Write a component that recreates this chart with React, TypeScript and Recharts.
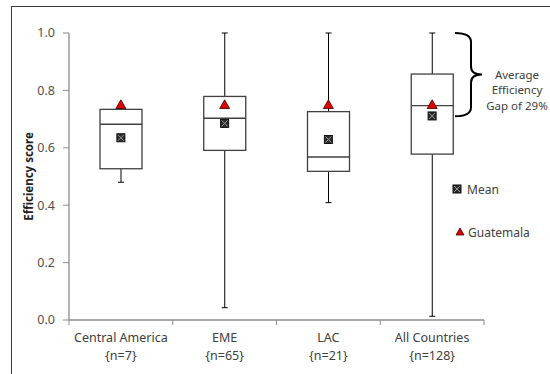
import { ComposedChart, Bar, Scatter, XAxis, YAxis, ReferenceArea } from "recharts";

const categories = ["Central America", "EME", "LAC", "All Countries"];
const sampleSizes = [7, 65, 21, 128];
const minValues = [0.48, 0.043, 0.409, 0.013];
const q1Values = [0.527, 0.591, 0.518, 0.578];
const medianValues = [0.682, 0.703, 0.568, 0.747];
const q3Values = [0.734, 0.779, 0.726, 0.857];
const maxValues = [0.745, 1.0, 1.0, 1.0];
const meanValues = [0.635, 0.685, 0.629, 0.711];
const guatemalaValues = [0.75, 0.75, 0.75, 0.75];
const yTicks = [0, 0.2, 0.4, 0.6, 0.8, 1.0];
const gapLow = 0.71;
const gapHigh = 1.0;
const gapLines = ["Average", "Efficiency", "Gap of 29%"];

const data = categories.map((name, i) => ({
  name,
  n: sampleSizes[i],
  min: minValues[i],
  q1: q1Values[i],
  median: medianValues[i],
  q3: q3Values[i],
  max: maxValues[i],
  mean: meanValues[i],
  guatemala: guatemalaValues[i],
}));

const FONT = "'Noto Sans', sans-serif";
const TEXT = "#404040";
const AXIS = "#8c8c8c";

function BoxShape(props: any) {
  const { x, y, width, height, payload } = props;
  const top = Math.min(y, y + height);
  const h = Math.abs(height);
  const span = payload.max - payload.min;
  const py = (v: number) => top + ((payload.max - v) / span) * h;
  const cx = x + width / 2;
  const cap = 3;
  return (
    <g>
      <line x1={cx} x2={cx} y1={py(payload.max)} y2={py(payload.q3)} stroke="#000" />
      <line x1={cx} x2={cx} y1={py(payload.q1)} y2={py(payload.min)} stroke="#000" />
      <line x1={cx - cap} x2={cx + cap} y1={py(payload.max)} y2={py(payload.max)} stroke="#000" />
      <line x1={cx - cap} x2={cx + cap} y1={py(payload.min)} y2={py(payload.min)} stroke="#000" />
      <rect
        x={x}
        y={py(payload.q3)}
        width={width}
        height={py(payload.q1) - py(payload.q3)}
        fill="#fff"
        stroke="#404040"
        strokeWidth={1.3}
      />
      <line x1={x} x2={x + width} y1={py(payload.median)} y2={py(payload.median)} stroke="#404040" strokeWidth={1.3} />
    </g>
  );
}

function MeanMark({ cx, cy }: any) {
  const s = 4;
  return (
    <g>
      <rect x={cx - s} y={cy - s} width={s * 2} height={s * 2} fill="#2b2b2b" stroke="#111" />
      <line x1={cx - s + 1} y1={cy - s + 1} x2={cx + s - 1} y2={cy + s - 1} stroke="#999" />
      <line x1={cx + s - 1} y1={cy - s + 1} x2={cx - s + 1} y2={cy + s - 1} stroke="#999" />
    </g>
  );
}

function TriangleMark({ cx, cy, mark = 5 }: any) {
  return (
    <path
      d={`M${cx},${cy - mark} L${cx + mark},${cy + mark * 0.75} L${cx - mark},${cy + mark * 0.75} Z`}
      fill="#e00000"
      stroke="#400"
      strokeWidth={0.8}
    />
  );
}

function CategoryTick(props: any) {
  const { x, y, payload, index, width, visibleTicksCount } = props;
  const band = width / visibleTicksCount;
  const n = sampleSizes[index];
  return (
    <g>
      <line x1={x - band / 2} x2={x - band / 2} y1={y - 8} y2={y - 3} stroke={AXIS} />
      {index === visibleTicksCount - 1 && (
        <line x1={x + band / 2} x2={x + band / 2} y1={y - 8} y2={y - 3} stroke={AXIS} />
      )}
      <text x={x} y={y + 14} textAnchor="middle" fontSize={12.5} fill={TEXT} fontFamily={FONT}>
        {payload.value}
      </text>
      <text x={x} y={y + 32} textAnchor="middle" fontSize={12.5} fill={TEXT} fontFamily={FONT}>
        {`{n=${n}}`}
      </text>
    </g>
  );
}

function BraceShape(props: any) {
  const { x, y, width, height } = props;
  const top = y;
  const bottom = y + height;
  const mid = (top + bottom) / 2;
  const right = x + width;
  const L = right - 29;
  const V = right - 13;
  const P = right - 2;
  const d = `M${L},${top} Q${V},${top} ${V},${top + 9} L${V},${mid - 8} Q${V},${mid} ${P},${mid} Q${V},${mid} ${V},${mid + 8} L${V},${bottom - 9} Q${V},${bottom} ${L},${bottom}`;
  return (
    <g>
      <path d={d} fill="none" stroke="#000" strokeWidth={2} />
      {gapLines.map((t, i) => (
        <text
          key={t}
          x={right + 33}
          y={mid + i * 15.5 + 4}
          textAnchor="middle"
          fontSize={11.5}
          fill={TEXT}
          fontFamily={FONT}
        >
          {t}
        </text>
      ))}
    </g>
  );
}

function YLabel({ viewBox }: any) {
  const x = viewBox.x - 1;
  const y = viewBox.y + viewBox.height / 2;
  return (
    <text
      x={x}
      y={y}
      transform={`rotate(-90 ${x} ${y})`}
      textAnchor="middle"
      dominantBaseline="central"
      fontSize={11.5}
      fontWeight={700}
      fill="#222"
      fontFamily={FONT}
    >
      Efficiency score
    </text>
  );
}

function LegendBox() {
  return (
    <svg width={90} height={60} style={{ position: "absolute", left: 452, top: 180 }}>
      <MeanMark cx={5} cy={9} />
      <text x={15} y={13.5} fontSize={12} fill={TEXT} fontFamily={FONT}>Mean</text>
      <TriangleMark cx={8} cy={52} mark={4} />
      <text x={16} y={56.5} fontSize={12} fill={TEXT} fontFamily={FONT}>Guatemala</text>
    </svg>
  );
}

export default function App() {
  return (
    <div style={{ position: "absolute", left: 0, top: 0, width: 550, height: 374, overflow: "hidden", background: "#fff" }}>
      <div
        style={{
          position: "absolute",
          left: 11,
          top: 6,
          width: 600,
          height: 420,
          border: "1px solid #3a3a3a",
        }}
      />
      <div style={{ position: "absolute", left: 0, top: 0 }}>
        <ComposedChart
          width={550}
          height={374}
          data={data}
          margin={{ top: 33, right: 66, bottom: 24, left: 29 }}
        >
          <XAxis
            dataKey="name"
            interval={0}
            height={30}
            tickLine={false}
            axisLine={{ stroke: AXIS, strokeWidth: 1.3 }}
            tick={<CategoryTick />}
          />
          <YAxis
            type="number"
            domain={[0, 1]}
            ticks={yTicks}
            width={40}
            tickSize={6}
            tickMargin={8}
            tickFormatter={(v: number) => v.toFixed(1)}
            axisLine={{ stroke: AXIS, strokeWidth: 1.3 }}
            tickLine={{ stroke: AXIS }}
            tick={{ fontSize: 12.5, fill: "#505050", fontFamily: FONT }}
            label={<YLabel />}
          />
          <ReferenceArea y1={gapLow} y2={gapHigh} ifOverflow="visible" shape={<BraceShape />} />
          <Bar dataKey={(d: any) => [d.min, d.max]} barSize={42} shape={<BoxShape />} isAnimationActive={false} />
          <Scatter dataKey="mean" shape={<MeanMark />} isAnimationActive={false} />
          <Scatter dataKey="guatemala" shape={<TriangleMark />} isAnimationActive={false} />
        </ComposedChart>
      </div>
      <LegendBox />
    </div>
  );
}
